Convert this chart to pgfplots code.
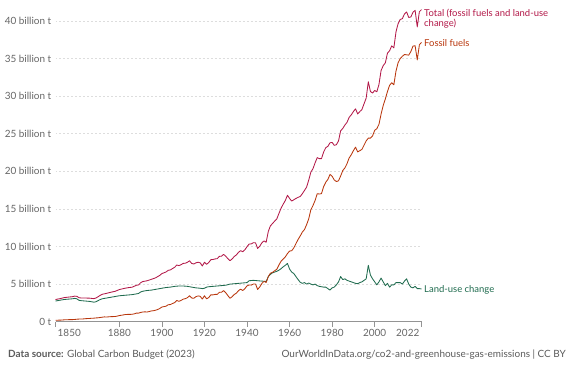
\documentclass[border=0pt]{standalone}
\usepackage{fontspec}
\setmainfont{Lato}
\usepackage{pgfplots}
\usepackage{pgfplotstable}
\pgfplotsset{compat=1.18}
\definecolor{ctotal}{HTML}{B21848}
\definecolor{cfossil}{HTML}{B8360C}
\definecolor{cluc}{HTML}{1F6B4E}
\definecolor{ctick}{HTML}{666666}
\definecolor{cgrid}{HTML}{DDDDDD}
\definecolor{cfoot}{HTML}{5B5B5B}

\pgfplotstableread{
year v
1850 0.20
1851 0.20
1852 0.21
1853 0.22
1854 0.25
1855 0.26
1856 0.27
1857 0.28
1858 0.28
1859 0.30
1860 0.33
1861 0.35
1862 0.35
1863 0.37
1864 0.40
1865 0.42
1866 0.43
1867 0.46
1868 0.47
1869 0.50
1870 0.52
1871 0.56
1872 0.60
1873 0.64
1874 0.62
1875 0.65
1876 0.67
1877 0.68
1878 0.69
1879 0.74
1880 0.82
1881 0.86
1882 0.91
1883 0.96
1884 0.97
1885 0.97
1886 0.99
1887 1.04
1888 1.14
1889 1.14
1890 1.23
1891 1.29
1892 1.31
1893 1.29
1894 1.35
1895 1.43
1896 1.46
1897 1.53
1898 1.62
1899 1.76
1900 1.95
1901 2.01
1902 2.07
1903 2.26
1904 2.28
1905 2.42
1906 2.54
1907 2.82
1908 2.71
1909 2.83
1910 3.00
1911 3.06
1912 3.20
1913 3.45
1914 3.15
1915 3.12
1916 3.33
1917 3.43
1918 3.38
1919 3.01
1920 3.45
1921 3.04
1922 3.21
1923 3.57
1924 3.57
1925 3.63
1926 3.63
1927 3.91
1928 3.91
1929 4.14
1930 3.85
1931 3.47
1932 3.12
1933 3.32
1934 3.62
1935 3.80
1936 4.13
1937 4.33
1938 4.15
1939 4.39
1940 4.77
1941 4.88
1942 4.87
1943 5.01
1944 5.01
1945 4.29
1946 4.63
1947 5.09
1948 5.37
1949 5.21
1950 6.00
1951 6.45
1952 6.56
1953 6.78
1954 6.97
1955 7.55
1956 8.04
1957 8.33
1958 8.62
1959 9.06
1960 9.39
1961 9.44
1962 9.82
1963 10.39
1964 10.94
1965 11.40
1966 11.92
1967 12.25
1968 12.90
1969 13.68
1970 14.89
1971 15.45
1972 16.13
1973 17.02
1974 16.98
1975 17.03
1976 17.96
1977 18.54
1978 18.92
1979 19.59
1980 19.34
1981 18.85
1982 18.64
1983 18.74
1984 19.38
1985 20.10
1986 20.45
1987 21.02
1988 21.78
1989 22.21
1990 22.75
1991 23.21
1992 22.58
1993 22.74
1994 22.92
1995 23.48
1996 24.04
1997 24.41
1998 24.41
1999 24.71
2000 25.45
2001 25.67
2002 26.24
2003 27.60
2004 28.75
2005 29.62
2006 30.61
2007 31.43
2008 31.78
2009 31.51
2010 33.32
2011 34.44
2012 34.99
2013 35.30
2014 35.53
2015 35.49
2016 35.45
2017 35.93
2018 36.65
2019 36.70
2020 34.81
2021 36.82
2022 37.15
}\fossil

\pgfplotstableread{
year v
1850 2.75
1852 2.85
1854 2.95
1856 3.00
1858 3.05
1859 3.10
1860 3.05
1861 2.85
1862 2.80
1864 2.75
1866 2.70
1868 2.60
1869 2.65
1870 2.80
1871 2.95
1872 3.05
1874 3.15
1876 3.25
1878 3.35
1880 3.45
1882 3.50
1884 3.55
1886 3.60
1888 3.70
1889 3.75
1890 3.95
1891 4.05
1893 4.15
1895 4.20
1897 4.30
1899 4.40
1900 4.45
1902 4.55
1904 4.60
1906 4.70
1908 4.75
1910 4.75
1912 4.70
1914 4.60
1916 4.50
1918 4.45
1919 4.40
1920 4.45
1921 4.60
1922 4.65
1924 4.70
1926 4.75
1928 4.80
1930 4.85
1932 5.00
1934 5.05
1936 5.10
1938 5.15
1940 5.20
1941 5.45
1943 5.50
1945 5.45
1947 5.40
1949 5.35
1950 6.00
1951 6.30
1952 6.50
1953 6.60
1954 6.70
1955 6.85
1956 7.05
1957 7.30
1958 7.50
1959 7.75
1960 7.00
1961 6.60
1962 6.40
1963 6.00
1964 5.60
1965 5.25
1966 5.10
1967 5.20
1968 5.00
1969 5.15
1970 5.00
1971 4.90
1972 5.00
1973 4.80
1974 4.70
1975 4.65
1976 4.60
1977 4.60
1978 4.40
1979 4.20
1980 4.50
1981 4.60
1982 4.90
1983 5.30
1984 6.00
1985 5.60
1986 5.70
1987 5.50
1988 5.40
1989 5.30
1990 5.20
1991 5.10
1992 5.05
1993 5.20
1994 5.30
1995 5.50
1996 5.70
1997 7.50
1998 6.20
1999 5.70
2000 5.30
2001 4.90
2002 5.30
2003 5.80
2004 5.30
2005 4.80
2006 5.10
2007 4.60
2008 4.90
2009 4.90
2010 5.20
2011 5.20
2012 5.20
2013 5.00
2014 5.40
2015 5.70
2016 5.00
2017 4.60
2018 4.50
2019 4.70
2020 4.40
2021 4.40
2022 4.35
}\luc

\pgfplotstableread{
year v
1850 2.95
1852 3.06
1854 3.20
1856 3.27
1858 3.33
1859 3.40
1860 3.38
1861 3.20
1862 3.15
1864 3.15
1866 3.13
1868 3.07
1869 3.15
1870 3.32
1871 3.51
1872 3.65
1874 3.77
1876 3.92
1878 4.04
1880 4.27
1882 4.41
1884 4.52
1886 4.59
1888 4.84
1889 4.89
1890 5.18
1891 5.34
1893 5.44
1895 5.63
1897 5.83
1899 6.16
1900 6.40
1901 6.51
1902 6.62
1903 6.84
1904 6.88
1905 7.07
1906 7.24
1907 7.54
1908 7.46
1909 7.58
1910 7.75
1911 7.78
1912 7.90
1913 8.10
1914 7.75
1915 7.67
1916 7.83
1917 7.91
1918 7.83
1919 7.41
1920 7.90
1921 7.64
1922 7.86
1923 8.25
1924 8.27
1925 8.35
1926 8.38
1927 8.69
1928 8.71
1929 8.96
1930 8.70
1931 8.39
1932 8.12
1933 8.34
1934 8.67
1935 8.88
1936 9.23
1937 9.45
1938 9.30
1939 9.57
1940 9.97
1941 10.33
1942 10.35
1943 10.51
1944 10.49
1945 9.74
1946 10.05
1947 10.49
1948 10.75
1949 10.56
1950 12.00
1951 12.75
1952 13.06
1953 13.38
1954 13.67
1955 14.40
1956 15.09
1957 15.63
1958 16.12
1959 16.81
1960 16.39
1961 16.04
1962 16.22
1963 16.39
1964 16.54
1965 16.65
1966 17.02
1967 17.45
1968 17.90
1969 18.83
1970 19.89
1971 20.35
1972 21.13
1973 21.82
1974 21.68
1975 21.68
1976 22.56
1977 23.14
1978 23.32
1979 23.79
1980 23.84
1981 23.45
1982 23.54
1983 24.04
1984 25.38
1985 25.70
1986 26.15
1987 26.52
1988 27.18
1989 27.51
1990 27.95
1991 28.31
1992 27.63
1993 27.94
1994 28.22
1995 28.98
1996 29.74
1997 31.91
1998 30.61
1999 30.41
2000 30.75
2001 30.57
2002 31.54
2003 33.40
2004 34.05
2005 34.42
2006 35.71
2007 36.03
2008 36.68
2009 36.41
2010 38.52
2011 39.64
2012 40.19
2013 40.30
2014 40.93
2015 41.19
2016 40.45
2017 40.53
2018 41.15
2019 41.40
2020 39.21
2021 41.22
2022 41.50
}\total

\begin{document}
\begin{tikzpicture}[x=1bp,y=1bp]
\useasboundingbox (0,0) rectangle (582,367);
\begin{axis}[
  at={(55.5bp,45.3bp)}, anchor=south west,
  scale only axis, width=366bp, height=315.84bp,
  xmin=1850, xmax=2022, ymin=0, ymax=42,
  clip=false,
  axis x line*=bottom, axis y line*=left,
  y axis line style={draw=none},
  x axis line style={draw=ctick!70, line width=0.6pt},
  xtick={1850,1880,1900,1920,1940,1960,1980,2000,2022},
  xticklabels={,1880,1900,1920,1940,1960,1980,2000,},
  ytick={0,5,10,15,20,25,30,35,40},
  yticklabels={0 t,5 billion t,10 billion t,15 billion t,20 billion t,25 billion t,30 billion t,35 billion t,40 billion t},
  tick align=outside,
  x tick style={draw=ctick!70, line width=0.6pt},
  major tick length=5bp,
  y tick style={draw=none},
  ymajorgrids,
  grid style={draw=cgrid, line width=0.6pt, dash pattern=on 2pt off 2pt},
  tick label style={font=\fontsize{10}{12}\selectfont, text=ctick},
  yticklabel style={inner sep=1bp, xshift=2bp},
  xticklabel style={inner sep=2bp},
  /pgf/number format/assume math mode=true,
  every axis plot/.append style={line width=0.85pt, line join=round},
]
\addplot[cluc, mark=none] table[x=year,y=v] {\luc};
\addplot[cfossil, mark=none] table[x=year,y=v] {\fossil};
\addplot[ctotal, mark=none] table[x=year,y=v] {\total};
\node[anchor=north west, font=\fontsize{10}{12}\selectfont, text=ctick, inner sep=2bp, yshift=-5bp] at (axis cs:1850,0) {1850};
\node[anchor=north east, font=\fontsize{10}{12}\selectfont, text=ctick, inner sep=2bp, yshift=-5bp] at (axis cs:2022,0) {2022};
\end{axis}
\node[anchor=west, text=ctotal, font=\fontsize{9.5}{10}\selectfont, align=left, inner sep=0pt] at (424,367-18.5) {Total (fossil fuels and land-use\\change)};
\node[anchor=west, text=cfossil, font=\fontsize{9.5}{10}\selectfont, inner sep=0pt] at (424,367-42.7) {Fossil fuels};
\node[anchor=west, text=cluc, font=\fontsize{9.5}{10}\selectfont, inner sep=0pt] at (424,367-290) {Land-use change};
\node[anchor=base west, text=cfoot, font=\fontsize{10}{12}\selectfont, inner sep=0pt] at (8,10) {\textbf{Data source:} Global Carbon Budget (2023)};
\node[anchor=base east, text=cfoot, font=\fontsize{10}{12}\selectfont, inner sep=0pt] at (566,10) {OurWorldInData.org/co2-and-greenhouse-gas-emissions | CC BY};
\end{tikzpicture}
\end{document}
